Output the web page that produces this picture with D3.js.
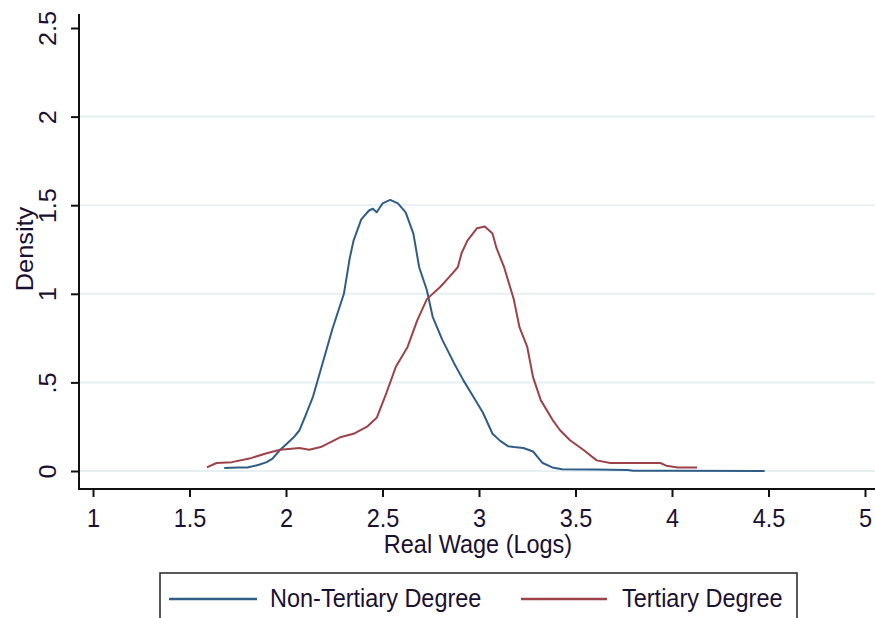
<!DOCTYPE html>
<html>
<head>
<meta charset="utf-8">
<script src="https://cdn.jsdelivr.net/npm/d3@7"></script>
<style>
  html, body { margin: 0; padding: 0; background: #fff; }
  svg { display: block; }
  text { font-family: "Liberation Sans", Arial, sans-serif; fill: #1a1030; }
</style>
</head>
<body>
<script>
// ---- data ----
const nonTertiaryX = [1.68,1.75,1.80,1.86,1.90,1.93,1.97,2.00,2.04,2.07,2.10,2.14,2.19,2.24,2.30,2.33,2.35,2.39,2.43,2.45,2.47,2.50,2.54,2.58,2.62,2.66,2.69,2.73,2.76,2.81,2.87,2.92,2.97,3.02,3.07,3.11,3.15,3.18,3.23,3.28,3.33,3.38,3.43,3.60,3.77,3.80,4.00,4.48];
const nonTertiaryY = [0.017,0.02,0.02,0.035,0.05,0.07,0.12,0.15,0.19,0.23,0.31,0.42,0.61,0.80,1.00,1.20,1.30,1.42,1.47,1.48,1.46,1.51,1.53,1.51,1.46,1.34,1.15,1.02,0.87,0.74,0.61,0.51,0.42,0.33,0.21,0.17,0.14,0.135,0.13,0.11,0.045,0.02,0.01,0.008,0.005,0.002,0.001,0.0];
const tertiaryX = [1.59,1.64,1.72,1.81,1.90,1.97,2.07,2.12,2.18,2.28,2.35,2.42,2.47,2.52,2.57,2.63,2.68,2.73,2.80,2.85,2.89,2.91,2.94,2.99,3.03,3.07,3.09,3.13,3.18,3.21,3.25,3.28,3.32,3.38,3.42,3.47,3.54,3.61,3.68,3.94,3.97,4.03,4.13];
const tertiaryY = [0.02,0.045,0.05,0.07,0.10,0.12,0.13,0.12,0.135,0.19,0.21,0.25,0.30,0.44,0.59,0.70,0.85,0.97,1.04,1.10,1.15,1.23,1.30,1.37,1.38,1.34,1.26,1.15,0.97,0.81,0.70,0.53,0.40,0.29,0.23,0.175,0.12,0.06,0.045,0.045,0.03,0.02,0.02];
const xTicks = [1, 1.5, 2, 2.5, 3, 3.5, 4, 4.5, 5];
const yTicks = [0, 0.5, 1, 1.5, 2, 2.5];
const yTickLabels = ["0", ".5", "1", "1.5", "2", "2.5"];
const gridTicks = [0, 0.5, 1, 1.5, 2];
const seriesNames = ["Non-Tertiary Degree", "Tertiary Degree"];
const seriesColors = ["#2f5d86", "#9c4248"];

// ---- layout ----
const W = 875, H = 618;
const svg = d3.select("body").append("svg").attr("width", W).attr("height", H);

const x = d3.scaleLinear().domain([1, 5]).range([93, 865]);
const y = d3.scaleLinear().domain([0, 2.5]).range([471, 28]);
const axisX = 79, axisY = 489;
const FS = 23.5, SY = 1.08;

// gridlines
svg.append("g").selectAll("line").data(gridTicks).join("line")
  .attr("x1", axisX + 1).attr("x2", W)
  .attr("y1", d => y(d)).attr("y2", d => y(d))
  .attr("stroke", "#e6eff2").attr("stroke-width", 2);

// y axis
const yAxis = d3.axisLeft(y).tickValues(yTicks).tickSize(8).tickFormat((d, i) => yTickLabels[i]);
const gy = svg.append("g").attr("transform", `translate(${axisX},0)`).call(yAxis);
gy.select(".domain").remove();
gy.selectAll(".tick line").attr("stroke", "#111").attr("stroke-width", 2);
gy.selectAll(".tick text").remove();
gy.selectAll(".tick").append("g")
  .attr("transform", `translate(-23,0) rotate(-90) scale(${SY},1)`)
  .append("text").attr("text-anchor", "middle").attr("font-size", FS)
  .text((d, i) => yTickLabels[i]);
svg.append("line").attr("x1", axisX).attr("x2", axisX).attr("y1", 14).attr("y2", axisY + 1)
  .attr("stroke", "#111").attr("stroke-width", 2);

// x axis
const xAxis = d3.axisBottom(x).tickValues(xTicks).tickSize(8).tickFormat(d3.format("~g"));
const gx = svg.append("g").attr("transform", `translate(0,${axisY})`).call(xAxis);
gx.select(".domain").remove();
gx.selectAll(".tick line").attr("stroke", "#111").attr("stroke-width", 2);
gx.selectAll(".tick text").remove();
gx.selectAll(".tick").append("g")
  .attr("transform", `translate(0,38) scale(1,${SY})`)
  .append("text").attr("text-anchor", "middle").attr("font-size", FS)
  .text(d => d3.format("~g")(d));
svg.append("line").attr("x1", axisX - 1).attr("x2", W).attr("y1", axisY).attr("y2", axisY)
  .attr("stroke", "#111").attr("stroke-width", 2);

// axis titles
svg.append("g").attr("transform", `translate(478,553) scale(1,${SY})`)
  .append("text").attr("text-anchor", "middle").attr("font-size", FS).text("Real Wage (Logs)");
svg.append("g").attr("transform", `translate(33,249) rotate(-90) scale(${SY},1)`)
  .append("text").attr("text-anchor", "middle").attr("font-size", FS).text("Density");

// lines
const line = d3.line().x(d => x(d[0])).y(d => y(d[1]));
const series = [
  d3.zip(nonTertiaryX, nonTertiaryY),
  d3.zip(tertiaryX, tertiaryY)
];
svg.append("g").selectAll("path").data(series).join("path")
  .attr("d", line).attr("fill", "none")
  .attr("stroke", (d, i) => seriesColors[i]).attr("stroke-width", 2)
  .attr("stroke-linejoin", "round");

// legend
svg.append("rect").attr("x", 160).attr("y", 573).attr("width", 637).attr("height", 60)
  .attr("fill", "#fff").attr("stroke", "#222").attr("stroke-width", 1.5);
const legendItems = [
  { lx1: 169, lx2: 257, tx: 270 },
  { lx1: 521, lx2: 607, tx: 622 }
];
const lg = svg.append("g").selectAll("g").data(legendItems).join("g");
lg.append("line").attr("x1", d => d.lx1).attr("x2", d => d.lx2).attr("y1", 599).attr("y2", 599)
  .attr("stroke", (d, i) => seriesColors[i]).attr("stroke-width", 2.5);
lg.append("g").attr("transform", d => `translate(${d.tx},607) scale(1,${SY})`)
  .append("text").attr("font-size", FS).text((d, i) => seriesNames[i]);
</script>
</body>
</html>
